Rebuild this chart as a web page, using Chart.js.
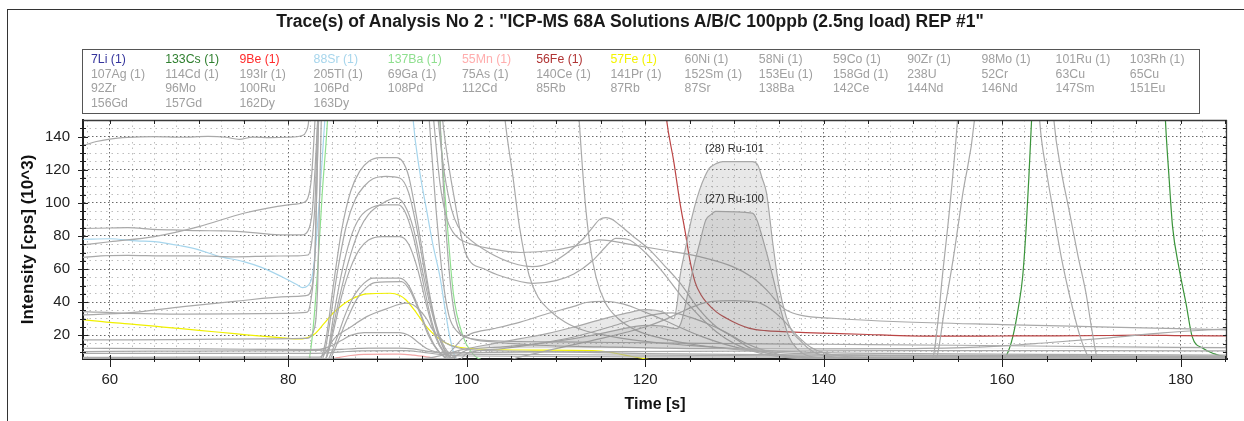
<!DOCTYPE html>
<html>
<head>
<meta charset="utf-8">
<title>Trace(s) of Analysis No 2</title>
<script src="https://cdn.jsdelivr.net/npm/chart.js@4.4.1/dist/chart.umd.min.js"></script>
<style>
  html, body { margin: 0; padding: 0; background: #fff; overflow: hidden; }
  #wrap { position: relative; width: 1244px; height: 421px; overflow: hidden; font-family: "Liberation Sans", Arial, sans-serif; }
  #chartBox { position: absolute; left: 0; top: 0; width: 1244px; height: 421px; }
  #frame { position: absolute; left: 7px; top: 9px; width: 1300px; height: 500px; border-left: 1px solid #333; border-top: 1px solid #333; pointer-events: none; }
  #title { position: absolute; top: 10px; left: 0; width: 1260px; text-align: center; font-weight: bold; font-size: 17.5px; line-height: 22px; color: #1a1a1a; }
  #legend { position: absolute; left: 82px; top: 49px; width: 1116px; height: 63px; border: 1px solid #555; }
  #legend span { position: absolute; font-size: 12.3px; line-height: 14px; white-space: nowrap; color: #a0a0a0; }
</style>
</head>
<body>
<div id="wrap">
  <div id="chartBox"><canvas id="traceChart"></canvas></div>
  <div id="frame"></div>
  <div id="title">Trace(s) of Analysis No 2 : "ICP-MS 68A Solutions A/B/C 100ppb (2.5ng load) REP #1"</div>
  <div id="legend"></div>
</div>
<script>
// Legend grid, one array per row
const legendRow1 = ['7Li (1)', '133Cs (1)', '9Be (1)', '88Sr (1)', '137Ba (1)', '55Mn (1)', '56Fe (1)', '57Fe (1)', '60Ni (1)', '58Ni (1)', '59Co (1)', '90Zr (1)', '98Mo (1)', '101Ru (1)', '103Rh (1)'];
const legendRow2 = ['107Ag (1)', '114Cd (1)', '193Ir (1)', '205Tl (1)', '69Ga (1)', '75As (1)', '140Ce (1)', '141Pr (1)', '152Sm (1)', '153Eu (1)', '158Gd (1)', '238U', '52Cr', '63Cu', '65Cu'];
const legendRow3 = ['92Zr', '96Mo', '100Ru', '106Pd', '108Pd', '112Cd', '85Rb', '87Rb', '87Sr', '138Ba', '142Ce', '144Nd', '146Nd', '147Sm', '151Eu'];
const legendRow4 = ['156Gd', '157Gd', '162Dy', '163Dy'];
const legendColors = {
    '7Li (1)': '#34349c', '133Cs (1)': '#2f7f2f', '9Be (1)': '#ff2b2b', '88Sr (1)': '#a6d5ec',
    '137Ba (1)': '#8fdf8f', '55Mn (1)': '#ffadad', '56Fe (1)': '#b03434', '57Fe (1)': '#f4f400'
};

// Axis ticks
const xTickLabels = [60, 80, 100, 120, 140, 160, 180];
const yTickLabels = [20, 40, 60, 80, 100, 120, 140];

// Traces: [time s, intensity 10^3 cps]
const base140 = [[57,134.5],[58.5,137],[60,138.5],[62,139.5],[65,140],[68,139.6],[71,140.1],[73,139.6],[74.5,138.3],[76,139.7],[78,139.4],[80,139.6],[81.5,140.5],[82,143],[82.3,150],[82.8,200],[95.5,200],[96.3,150],[97,112],[97.8,90],[98.8,80],[100,76],[103,72],[106,70],[110,71.5],[113,75],[114.9,77.6],[118.6,74.6],[122,71.5],[126.1,67.5],[129.8,61.5],[132,55],[133.6,47.4],[135,39],[135.8,35.3],[137.5,32],[141,30.3],[148.5,28.2],[160,26.5],[172,25],[185.5,23.3]];
const base84 = [[57,84.5],[60,84.8],[62,85],[65,84],[68,83.5],[70,83.2],[73,83],[76,82],[78,81],[80,80.6],[81.5,80.6],[82.2,83],[82.7,95],[83,120],[83.3,150],[83.8,200],[96,200],[96.8,150],[97.5,118],[98.3,96],[99,86],[100,79.6],[102.5,70],[105.2,63.5],[107.4,61.5],[109.5,64],[111.2,69.6],[113,78],[114.1,85],[114.9,90],[115.6,91],[116.3,90],[117.1,86.7],[118.6,80],[120.5,71.6],[122,63],[123.9,51.6],[126.1,35.3],[128,25],[129.8,19.2],[131.5,13],[133.6,9.3],[136,7],[140,6],[185.5,5.5]];
const rising75 = [[57,74.6],[60,76.5],[65,79.6],[70,85.6],[75,93.7],[80,98.8],[81.7,100.2],[82.2,103],[82.6,115],[83,150],[83.5,200],[96.5,200],[97.3,150],[98,122],[98.7,100],[99.3,82],[100,68],[102,60],[104,55.5],[107.4,51.4],[110,53],[112,57],[114.1,65],[115.5,73],[116.7,78.5],[118,78],[120,70],[122,58],[124,44],[126,32],[128,22],[130,15],[133,9],[136,6.5],[140,5.5],[185.5,5]];
const base68 = [[57,67],[59,68],[62,68.3],[66,68],[70,68],[74,67.4],[78,67.8],[81,68],[82.2,68.5],[82.6,75],[83,100],[83.3,150],[83.8,200],[103.5,200],[104.3,150],[105.2,115],[105.9,86],[107,56],[108,43],[109.3,35],[111,28],[113,23.2],[116,19.5],[118.6,17.2],[122,15.2],[126,13.5],[130,12],[135,10.5],[140,9.5],[150,9],[165,8.5],[185.5,8]];
const rising43 = [[57,32.3],[62,33.5],[68.2,37.3],[74,40.5],[80,43.3],[82,44],[82.6,48],[83,70],[83.4,150],[84,200],[112,200],[112.6,150],[113.2,105],[113.8,75],[114.5,55],[115.5,40],[117,30],[119,23],[122,18],[126,14],[130,11.5],[135,9.5],[140,8.5],[150,8],[185.5,7.5]];
const base33 = [[57,34.3],[62,33.3],[68,32.8],[74,32.9],[80,33.3],[82,33.8],[82.5,40],[83,70],[83.4,150],[84,200],[95,200],[95.8,150],[96.5,100],[97.3,55],[98,32],[99,22],[100.5,18],[104,16.5],[110,16],[120,15.5],[130,15],[140,14.6],[155,14],[170,13.2],[185.5,12.5]];
const base17 = [[57,17.2],[62,17.2],[70,17.6],[78,17.9],[82,18.2],[82.8,22],[83.3,50],[83.7,150],[84.2,200],[96.5,200],[97,150],[97.6,90],[98.3,45],[99,25],[100,19],[103,16],[108,14],[115,13],[125,12],[140,11.8],[150,12],[158,13],[165,15.5],[172,18.5],[178,21.5],[185.5,24]];
const base12 = [[57,12.2],[65,12],[75,11.6],[82,11.4],[83.5,11.5],[84.5,13],[86,17],[87,20],[88.5,21.6],[92.5,21.6],[93.5,20],[94.5,16],[95.5,12],[96.5,10],[98,9],[105,8.5],[120,8],[140,7.5],[185.5,7]];
const base10 = [[57,10.2],[65,10.4],[75,10.6],[82,10.8],[84,11],[86,11.5],[87.5,12],[89,12.3],[92.5,12.3],[94,11.8],[95.5,10.5],[97,9.5],[100,9.5],[110,10],[130,10.5],[150,10.7],[170,10.7],[185.5,10.6]];
const base9 = [[57,9.1],[70,9.1],[82,9.1],[84,9.3],[86,10],[88,10.6],[93,10.7],[95,9.8],[97,8.5],[100,7.5],[120,7],[185.5,6.6]];
const base7 = [[57,6.7],[70,6.8],[82,6.9],[83.5,6.8],[84.5,12],[85,17],[87,25],[88.8,31.3],[91,36],[93.2,39.4],[94,38.5],[94.7,35.3],[95.5,30],[96.2,23.2],[97,18.5],[97.7,15.2],[99,12.5],[101,11],[105,10.5],[110,10],[120,9],[140,8],[185.5,7]];
const bump127 = [[57,4],[83.3,4.5],[83.8,8],[84.3,20],[85,48],[86,84],[87,107],[88,119],[89,125],[90.3,127.3],[92.1,127.3],[92.8,125],[93.5,116],[94.2,97],[95,72],[95.8,46],[96.6,26],[97.5,13],[98.5,7],[100,5],[185.5,4.5]];
const bump116 = [[57,4],[83.5,4.5],[84,8],[84.5,22],[85.5,58],[86.5,86],[87.5,102],[88.5,110],[89.5,114.5],[91,116],[92.5,115],[93.5,106],[94.5,82],[95.5,52],[96.5,27],[97.5,11],[98.5,6],[100,5],[185.5,4.5]];
const bump103 = [[57,4],[84,4.5],[84.5,10],[85,24],[86,49],[87,69],[88,84],[89,93],[90.5,99.5],[92.1,102.8],[93,99],[94,85],[95,60],[96,36],[97,17],[98,8],[99,5],[185.5,4.5]];
const bump99 = [[57,4],[84,4.5],[84.5,12],[85,29],[86,58],[87,79],[88,91],[89.5,97.5],[91,98.8],[92.3,98.8],[93,95.5],[94,80],[95,55],[96,30],[97,14],[98,7],[99,5],[185.5,4.5]];
const bump80 = [[57,4],[84,4.5],[84.5,10],[85,21],[86,44],[87,61],[88,72],[89,77.5],[90.5,79.6],[92.5,79.6],[93.5,75],[94.5,60],[95.5,38],[96.5,19],[97.5,9],[98.5,5],[185.5,4.5]];
const bump55 = [[57,4],[84.3,4.5],[84.8,9],[85.5,19],[86.5,34],[87.5,45],[88.5,51.5],[89.5,54.5],[92.5,54.5],[93.5,50],[94.5,38],[95.5,24],[96.5,13],[97.5,7],[98.5,5],[185.5,4.5]];
const bump52 = [[57,4],[84.5,4.5],[85,9],[85.7,18],[86.7,31],[87.7,42],[88.7,48.5],[89.7,51.8],[92.7,52.4],[93.7,46.5],[94.7,34],[95.7,20],[96.7,11],[97.7,6],[98.5,5],[185.5,4.5]];
const hump115 = [[57,4],[97,5],[98.5,12],[99.5,18],[100.5,21],[103,24],[106,28],[109,33],[112,37.5],[113.4,39.8],[115.5,40.5],[117.5,39],[120,34],[123,27],[126,20],[130,13],[134,9],[138,7],[142,5.5],[185.5,5]];
const hump130 = [[57,4],[104,4.5],[106,7],[110,12],[115,18],[118,22],[120,25],[122,29],[124,34],[126,38.5],[127.5,40.5],[130,41],[132.5,40],[134,36],[135.5,29],[137,20],[138.5,13],[140,9.5],[143,7],[150,6],[185.5,5.5]];
const hump123 = [[57,4],[99,4.5],[100,9],[104,12],[108,15],[112,19],[116,25],[119,30],[121.5,33],[123,33.5],[125,31],[127,27],[129,22],[131,16],[133,11.5],[135,8.5],[138,6.5],[142,5],[185.5,4.5]];
const peak155 = [[57,4],[150,4],[151.6,4.8],[152.2,6],[152.8,28],[153.3,55.4],[154.1,95.7],[155,150],[155.8,220],[163.5,220],[164.2,150],[165,118],[165.7,95.7],[166.6,68],[167.5,45.4],[168.7,20],[169.8,6],[170.8,4],[185.5,4]];
const peak157 = [[57,4],[150,4],[152,4.8],[152.6,6],[153.5,34],[154.5,65.5],[155.6,105.8],[156.9,150],[157.8,220],[165,220],[165.8,150],[166.6,120],[167.5,95.7],[168.5,68],[169.4,45.4],[170.1,22],[170.7,6],[171.8,4],[185.5,4]];

// Integrated ruthenium peaks
const ru101 = [[57,6],[95,6],[100,12],[103,15],[106,18],[109,21],[112,25],[115,29.5],[118,33.5],[120,35.5],[122,34],[123.2,30],[123.6,40],[123.9,55.4],[124.5,72],[125,85.6],[125.5,97],[126.1,107.8],[126.7,116],[127.2,120.9],[128,123.8],[128.7,124.9],[132,124.9],[132.6,123],[133.1,115],[133.6,105.8],[134.3,75.6],[135,49.4],[135.8,31.3],[136.5,22],[137.3,17.2],[138.2,12.5],[139.2,9.1],[141,7],[145,6],[185.5,6]];
const ru100 = [[57,6],[98,6],[100,11],[104,13],[108,15],[112,18],[115,21],[118,24.5],[120,26],[122,25.5],[123.5,24],[124,27.3],[124.5,38],[125,51.4],[125.5,63],[126.1,75.6],[126.8,89.7],[127.4,93],[127.9,94.8],[132,93.8],[132.5,90],[133.1,79.6],[133.7,68],[134.3,55.4],[135.2,35.3],[136.1,19.2],[137,12],[138,8.1],[140,6.5],[185.5,6]];
const ruLabels = ['(28) Ru-101', '(27) Ru-100'];
const ruLabelTime = 130;

// Coloured isotopes
const sr88 = [[57,78],[60,78.3],[63,77],[65,76.6],[68,74],[70,71.6],[72,68],[75,64.5],[77,61],[80,53.4],[81,50.5],[81.6,48.8],[82.2,50],[82.7,56],[83.1,75],[83.6,110],[84.1,150],[84.8,220],[93.2,220],[94,150],[94.7,120],[95.5,95.7],[96.2,75],[97,55.4],[97.6,35],[98.1,19.2],[98.8,6],[100,4],[185.5,4]];
const ba137 = [[57,4.5],[82,5],[82.3,5.5],[82.8,25],[83.3,60],[83.8,105],[84.4,150],[85,220],[96.5,220],[97,150],[97.7,95.7],[98.5,45.4],[99.6,19.2],[100.5,10],[101.6,5.5],[110,4.5],[185.5,4.5]];
const mn55 = [[57,4.5],[84,5],[85.5,6.5],[87,7.8],[88.5,8.5],[92.5,8.6],[94,8],[95.5,7],[97,5.8],[98.5,5],[185.5,4.5]];
const fe57 = [[57,29.5],[60,27.8],[63,26.5],[66,25],[70,23],[74,21],[78,19],[80,18.2],[81,17.8],[82,18.3],[83,21],[84,27],[85,33.3],[86,38],[86.9,41.3],[88,44],[88.8,45],[91.4,45.4],[92.5,44],[93.2,41.3],[94.4,33.3],[95.3,26.5],[96.2,21.2],[97.7,15.2],[100,12.2],[107.4,11.1],[114.1,10.7],[116,9.8],[117.1,8.7],[118.5,7.2],[119.7,6.1],[121,5],[185.5,4.5]];
const fe56 = [[112,400],[121.5,200],[122.4,150],[123.2,125],[123.9,100],[124.5,82],[125,65.5],[125.6,52],[126.3,44],[126.8,40.3],[128,34],[129.1,30.3],[130.5,26.5],[131.7,24.2],[133.5,22.8],[135.4,22.2],[138,21.6],[141,21.2],[145,20.5],[148.5,19.8],[152,19.5],[160,19.6],[166,19.7],[172,19.9],[176,20.1],[180,19.8],[185.5,19.6]];
const cs133 = [[57,6.5],[58.5,5.9],[60,5.4],[61,4.5],[158,4.5],[160,5.5],[160.4,7],[161.2,19.2],[161.9,39.4],[162.3,55.4],[162.7,85.6],[163,115.8],[163.3,150],[163.8,220],[177.8,220],[178.3,150],[178.7,115.8],[179.1,85.6],[179.8,61.3],[180.6,39.4],[181.3,19.2],[182.5,12.2],[183.8,8.8],[184.9,7.1],[185.5,6.6]];

const grayTraces = [base140, base84, rising75, base68, rising43, base33, base17, base12, base10, base9, base7,
    bump127, bump116, bump103, bump99, bump80, bump55, bump52, hump115, hump130, hump123, peak155, peak157];
const colorTraces = [
    [mn55, '#f2a6a6'], [sr88, '#a6d5ec'], [ba137, '#8fdf8f'], [fe57, '#f0f000'], [fe56, '#bb4444'], [cs133, '#3a943a']
];

// Grid positions: minor every 2.5 s and 5 units
const xGrid = [];
for (let t = 57.5; t <= 185; t += 2.5) xGrid.push(t);
const yGrid = [];
for (let v = 10; v <= 145; v += 5) yGrid.push(v);

const fontFamily = '"Liberation Sans", Arial, sans-serif';

function buildLegend() {
    const box = document.getElementById('legend');
    [legendRow1, legendRow2, legendRow3, legendRow4].forEach((row, r) => {
        row.forEach((name, c) => {
            const span = document.createElement('span');
            span.textContent = name;
            span.style.left = (8 + c * 74.2) + 'px';
            span.style.top = (2 + r * 14.7) + 'px';
            if (legendColors[name]) span.style.color = legendColors[name];
            box.appendChild(span);
        });
    });
}

function lineSet(data, color) {
    return {
        data: data,
        borderColor: color,
        borderWidth: 1.2,
        pointRadius: 0,
        fill: false,
        cubicInterpolationMode: 'monotone',
        clip: 0
    };
}

function peakSet(data) {
    return {
        data: data,
        borderColor: '#a8a8a8',
        borderWidth: 1.2,
        pointRadius: 0,
        cubicInterpolationMode: 'monotone',
        clip: 0,
        fill: { target: { value: 12 }, above: 'rgba(120,120,120,0.17)', below: 'rgba(0,0,0,0)' }
    };
}

// Frame ticks on all four sides plus the peak captions
const frameTicks = {
    id: 'frameTicks',
    afterDatasetsDraw(chart) {
        const { ctx, chartArea: a, scales: { x, y } } = chart;
        ctx.save();
        ctx.strokeStyle = '#3a3a3a';
        ctx.lineWidth = 1.3;
        ctx.beginPath();
        ctx.moveTo(a.left, a.top + 0.5);
        ctx.lineTo(a.right, a.top + 0.5);
        ctx.moveTo(a.right - 0.5, a.top);
        ctx.lineTo(a.right - 0.5, a.bottom);
        ctx.stroke();

        ctx.strokeStyle = '#222';
        ctx.lineWidth = 1;
        ctx.beginPath();
        xGrid.forEach(t => {
            if (t % 5 !== 0) return;
            const px = Math.round(x.getPixelForValue(t)) + 0.5;
            const major = t % 20 === 0;
            ctx.moveTo(px, a.bottom - (major ? 4 : 3));
            ctx.lineTo(px, a.bottom + (major ? 8 : 3));
            ctx.moveTo(px, a.top);
            ctx.lineTo(px, a.top + 4);
        });
        yGrid.forEach(v => {
            const py = Math.round(y.getPixelForValue(v)) + 0.5;
            const major = v % 20 === 0;
            ctx.moveTo(a.left - (major ? 5 : 3), py);
            ctx.lineTo(a.left + (major ? 5 : 3), py);
            ctx.moveTo(a.right - 4, py);
            ctx.lineTo(a.right, py);
        });
        ctx.stroke();

        ctx.fillStyle = '#2a2a2a';
        ctx.font = '11px ' + fontFamily;
        ctx.textAlign = 'center';
        ctx.textBaseline = 'middle';
        [ru101, ru100].forEach((trace, i) => {
            const top = Math.max(...trace.map(p => p[1]));
            ctx.fillText(ruLabels[i], x.getPixelForValue(ruLabelTime), y.getPixelForValue(top) - 12.5);
        });
        ctx.restore();
    }
};

function buildChart() {
    const datasets = [peakSet(ru101), peakSet(ru100)];
    grayTraces.forEach(tr => datasets.push(lineSet(tr, '#a9a9a9')));
    colorTraces.forEach(([tr, col]) => datasets.push(lineSet(tr, col)));

    const ctx = document.getElementById('traceChart').getContext('2d');
    new Chart(ctx, {
        type: 'line',
        data: { datasets: datasets },
        plugins: [frameTicks],
        options: {
            responsive: true,
            maintainAspectRatio: false,
            animation: false,
            layout: { padding: { top: 120, right: 17, left: 0, bottom: 0 } },
            plugins: {
                legend: { display: false },
                tooltip: { enabled: false }
            },
            scales: {
                x: {
                    type: 'linear',
                    min: 57,
                    max: 185.2,
                    afterBuildTicks: s => { s.ticks = xGrid.map(v => ({ value: v })); },
                    afterFit: s => { s.height = 62; },
                    ticks: {
                        autoSkip: false,
                        maxRotation: 0,
                        padding: 12,
                        color: '#222',
                        font: { family: fontFamily, size: 15 },
                        callback: v => xTickLabels.includes(v) ? String(v) : ''
                    },
                    grid: {
                        drawTicks: false,
                        lineWidth: 1,
                        color: c => (c.tick && c.tick.value % 20 === 0) ? '#6a6a6a' : '#bdbdbd'
                    },
                    border: {
                        color: '#222',
                        width: 2,
                        dash: c => c.tick ? (c.tick.value % 20 === 0 ? [1.5, 2.5] : [1.5, 4]) : []
                    },
                    title: {
                        display: true,
                        text: 'Time [s]',
                        color: '#111',
                        font: { family: fontFamily, size: 16, weight: 'bold' },
                        padding: { top: 0, bottom: 6.4 }
                    }
                },
                y: {
                    min: 5.7,
                    max: 150,
                    afterBuildTicks: s => { s.ticks = yGrid.map(v => ({ value: v })); },
                    afterFit: s => { s.width = 83; },
                    ticks: {
                        autoSkip: false,
                        padding: 13,
                        color: '#222',
                        font: { family: fontFamily, size: 15 },
                        callback: v => yTickLabels.includes(v) ? String(v) : ''
                    },
                    grid: {
                        drawTicks: false,
                        lineWidth: 1,
                        color: c => (c.tick && c.tick.value % 20 === 0) ? '#6a6a6a' : '#bdbdbd'
                    },
                    border: {
                        color: '#222',
                        width: 2,
                        dash: c => c.tick ? (c.tick.value % 20 === 0 ? [1.5, 2.5] : [1.5, 4]) : []
                    },
                    title: {
                        display: true,
                        text: 'Intensity [cps] (10^3)',
                        color: '#111',
                        font: { family: fontFamily, size: 17, weight: 'bold' },
                        padding: { top: 17.8, bottom: 0 }
                    }
                }
            }
        }
    });
}

document.addEventListener('DOMContentLoaded', () => {
    buildLegend();
    buildChart();
});
</script>
</body>
</html>
